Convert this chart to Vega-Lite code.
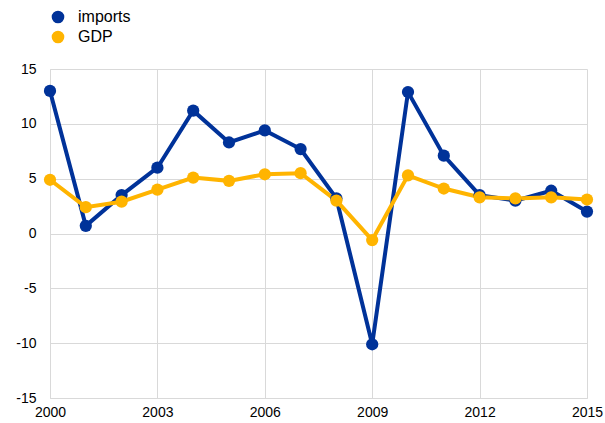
{
  "$schema": "https://vega.github.io/schema/vega-lite/v6.json",
  "width": 537,
  "height": 329,
  "autosize": {"type": "none"},
  "padding": {"left": 50, "top": 69, "right": 18, "bottom": 25},
  "background": "white",
  "config": {
    "font": "Liberation Sans",
    "view": {"stroke": null}
  },
  "data": {
    "values": [
      {"year": 2000, "series": "imports", "value": 13.0},
      {"year": 2001, "series": "imports", "value": 0.7},
      {"year": 2002, "series": "imports", "value": 3.5},
      {"year": 2003, "series": "imports", "value": 6.0},
      {"year": 2004, "series": "imports", "value": 11.2},
      {"year": 2005, "series": "imports", "value": 8.3},
      {"year": 2006, "series": "imports", "value": 9.4},
      {"year": 2007, "series": "imports", "value": 7.7},
      {"year": 2008, "series": "imports", "value": 3.2},
      {"year": 2009, "series": "imports", "value": -10.1},
      {"year": 2010, "series": "imports", "value": 12.9},
      {"year": 2011, "series": "imports", "value": 7.1},
      {"year": 2012, "series": "imports", "value": 3.5},
      {"year": 2013, "series": "imports", "value": 3.0},
      {"year": 2014, "series": "imports", "value": 3.9},
      {"year": 2015, "series": "imports", "value": 2.0},
      {"year": 2000, "series": "GDP", "value": 4.9},
      {"year": 2001, "series": "GDP", "value": 2.4},
      {"year": 2002, "series": "GDP", "value": 2.9},
      {"year": 2003, "series": "GDP", "value": 4.0},
      {"year": 2004, "series": "GDP", "value": 5.1},
      {"year": 2005, "series": "GDP", "value": 4.8},
      {"year": 2006, "series": "GDP", "value": 5.4},
      {"year": 2007, "series": "GDP", "value": 5.5},
      {"year": 2008, "series": "GDP", "value": 3.0},
      {"year": 2009, "series": "GDP", "value": -0.6},
      {"year": 2010, "series": "GDP", "value": 5.3},
      {"year": 2011, "series": "GDP", "value": 4.1},
      {"year": 2012, "series": "GDP", "value": 3.3},
      {"year": 2013, "series": "GDP", "value": 3.2},
      {"year": 2014, "series": "GDP", "value": 3.3},
      {"year": 2015, "series": "GDP", "value": 3.1}
    ]
  },
  "encoding": {
    "x": {
      "field": "year", "type": "quantitative",
      "scale": {"domain": [2000, 2015], "nice": false, "zero": false},
      "axis": {
        "values": [2000, 2003, 2006, 2009, 2012, 2015],
        "format": "d", "title": null, "ticks": false,
        "labelFontSize": 14, "labelColor": "#000", "labelPadding": 7,
        "domainColor": "#d9d9d9", "gridColor": "#d9d9d9",
        "labelFlush": false
      }
    },
    "y": {
      "field": "value", "type": "quantitative",
      "scale": {"domain": [-15, 15], "nice": false},
      "axis": {
        "values": [-15, -10, -5, 0, 5, 10, 15],
        "labelExpr": "'' + datum.value",
        "title": null, "ticks": false,
        "labelFontSize": 14, "labelColor": "#000", "labelPadding": 14,
        "domainColor": "#d9d9d9", "gridColor": "#d9d9d9"
      }
    },
    "color": {
      "field": "series", "type": "nominal",
      "scale": {"domain": ["imports", "GDP"], "range": ["#003299", "#FFB400"]},
      "legend": {
        "title": null, "orient": "none", "legendX": 0, "legendY": -60,
        "symbolType": "circle", "symbolSize": 160, "symbolStrokeWidth": 0,
        "labelFontSize": 16, "labelColor": "#000", "rowPadding": 4, "labelOffset": 12
      }
    },
    "order": {"field": "year"}
  },
  "layer": [
    {"mark": {"type": "line", "strokeWidth": 4}},
    {"mark": {"type": "point", "filled": true, "size": 150, "opacity": 1}}
  ]
}
